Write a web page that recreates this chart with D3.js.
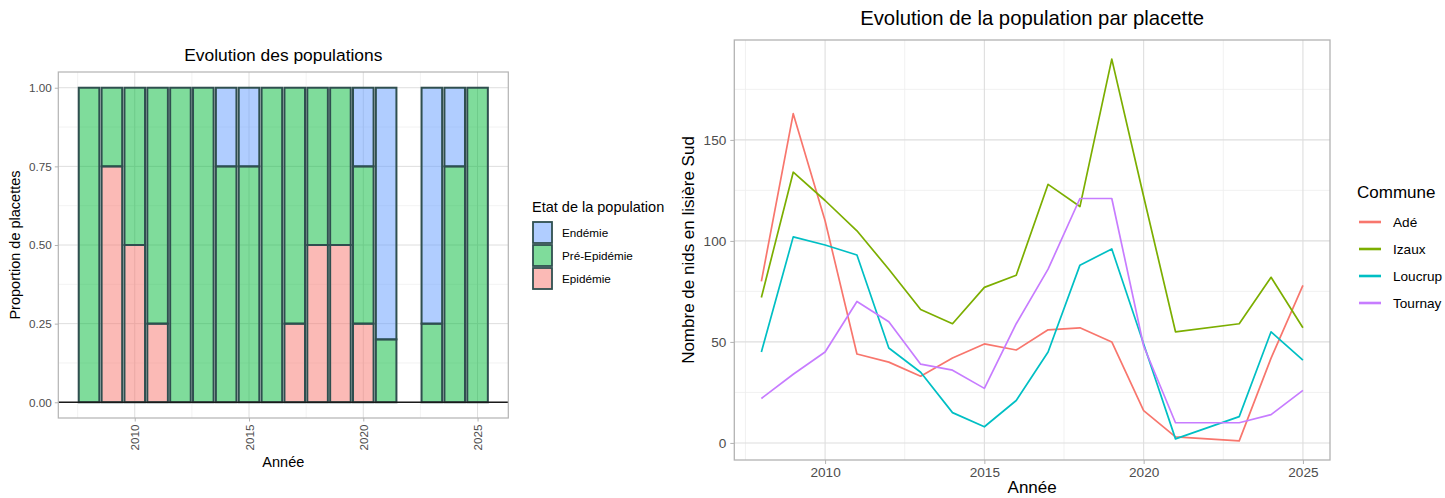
<!DOCTYPE html>
<html><head><meta charset="utf-8">
<script src="https://cdn.jsdelivr.net/npm/d3@7"></script>
<style>
body{margin:0;background:#fff}
svg{display:block;font-family:"Liberation Sans",Arial,Helvetica,sans-serif}
</style>
</head><body>
<svg id="c" width="1445" height="498"></svg>
<script>
// ---------- Data: left chart (proportions) ----------
const barYears    = [2008,2009,2010,2011,2012,2013,2014,2015,2016,2017,2018,2019,2020,2021,2023,2024,2025];
const epidemie    = [0,0.75,0.5,0.25,0,0,0,0,0,0.25,0.5,0.5,0.25,0,0,0,0];
const preEpidemie = [1,0.25,0.5,0.75,1,1,0.75,0.75,1,0.75,0.5,0.5,0.5,0.2,0.25,0.75,1];
const endemie     = [0,0,0,0,0,0,0.25,0.25,0,0,0,0,0.25,0.8,0.75,0.25,0];
const stateNames  = ["Endémie","Pré-Epidémie","Epidémie"];
const stateColors = ["#619CFF","#00BA38","#F8766D"];
const propTicks   = [0,0.25,0.5,0.75,1];
const yearTicks   = [2010,2015,2020,2025];

// ---------- Data: right chart (nests per plot) ----------
const lineYears = [2008,2009,2010,2011,2012,2013,2014,2015,2016,2017,2018,2019,2020,2021,2023,2024,2025];
const ade     = [80,163,110,44,40,33,42,49,46,56,57,50,16,3,1,42,78];
const izaux   = [72,134,120,105,86,66,59,77,83,128,117,190,122,55,59,82,57];
const loucrup = [45,102,98,93,47,35,15,8,21,45,88,96,49,2,13,55,41];
const tournay = [22,34,45,70,60,39,36,27,59,86,121,121,48,10,10,14,26];
const communes = ["Adé","Izaux","Loucrup","Tournay"];
const communeColors = ["#F8766D","#7CAE00","#00BFC4","#C77CFF"];
const countTicks = [0,50,100,150];

const svg = d3.select("#c");
const GRID_MAJ = "#DEDEDE", GRID_MIN = "#EEEEEE", BORDER = "#B3B3B3", TICKTXT = "#4D4D4D";

function expand(lo, hi, f){ const r = hi-lo; return [lo - r*f, hi + r*f]; }

// ================= LEFT CHART =================
(function(){
  const P = {l:58.3, r:508.3, t:72, b:418};
  const xDom = expand(d3.min(barYears)-0.45, d3.max(barYears)+0.45, 0.05);
  const x = d3.scaleLinear().domain(xDom).range([P.l, P.r]);
  const y = d3.scaleLinear().domain([-0.05,1.05]).range([P.b, P.t]);
  const g = svg.append("g");

  const xMinor = [2007.5,2012.5,2017.5,2022.5];
  const yMinor = [0.125,0.375,0.625,0.875];
  g.selectAll(".xm").data(xMinor).join("line").attr("x1",d=>x(d)).attr("x2",d=>x(d)).attr("y1",P.t).attr("y2",P.b).attr("stroke",GRID_MIN).attr("stroke-width",0.7);
  g.selectAll(".ym").data(yMinor).join("line").attr("y1",d=>y(d)).attr("y2",d=>y(d)).attr("x1",P.l).attr("x2",P.r).attr("stroke",GRID_MIN).attr("stroke-width",0.7);
  g.selectAll(".xM").data(yearTicks).join("line").attr("x1",d=>x(d)).attr("x2",d=>x(d)).attr("y1",P.t).attr("y2",P.b).attr("stroke",GRID_MAJ).attr("stroke-width",1);
  g.selectAll(".yM").data(propTicks).join("line").attr("y1",d=>y(d)).attr("y2",d=>y(d)).attr("x1",P.l).attr("x2",P.r).attr("stroke",GRID_MAJ).attr("stroke-width",1);

  const rows = barYears.map((yr,i)=>({year:yr, "Epidémie":epidemie[i], "Pré-Epidémie":preEpidemie[i], "Endémie":endemie[i]}));
  const keys = ["Epidémie","Pré-Epidémie","Endémie"];
  const series = d3.stack().keys(keys)(rows);
  const bw = x(2008.45) - x(2007.55);
  series.forEach(s=>{
    const col = stateColors[stateNames.indexOf(s.key)];
    g.append("g").selectAll("rect").data(s.filter(d=>d[1]-d[0]>0)).join("rect")
      .attr("x",d=>x(d.data.year)-bw/2).attr("width",bw)
      .attr("y",d=>y(d[1])).attr("height",d=>y(d[0])-y(d[1]))
      .attr("fill",col).attr("fill-opacity",0.5)
      .attr("stroke","#2F4F4F").attr("stroke-width",2);
  });

  g.append("line").attr("x1",P.l).attr("x2",P.r).attr("y1",y(0)).attr("y2",y(0)).attr("stroke","#1a1a1a").attr("stroke-width",1.4);

  g.append("rect").attr("x",P.l).attr("y",P.t).attr("width",P.r-P.l).attr("height",P.b-P.t).attr("fill","none").attr("stroke",BORDER).attr("stroke-width",1.2);

  const ya = g.append("g").attr("transform",`translate(${P.l},0)`)
    .call(d3.axisLeft(y).tickValues(propTicks).tickFormat(d3.format(".2f")).tickSize(3.5).tickPadding(3));
  ya.select(".domain").remove();
  ya.selectAll("line").attr("stroke",BORDER);
  ya.selectAll("text").attr("fill",TICKTXT).attr("font-size","11.7px").attr("font-family",null);

  const xa = g.append("g").attr("transform",`translate(0,${P.b})`)
    .call(d3.axisBottom(x).tickValues(yearTicks).tickFormat(d3.format("d")).tickSize(3.5));
  xa.select(".domain").remove();
  xa.selectAll("line").attr("stroke",BORDER);
  xa.selectAll("text").attr("fill",TICKTXT).attr("font-size","11.7px").attr("font-family",null)
    .attr("transform","rotate(-90)").attr("x",-6.5).attr("y",0).attr("dy","0.35em").attr("text-anchor","end");

  g.append("text").attr("x",(P.l+P.r)/2).attr("y",61).attr("text-anchor","middle").attr("font-size","17.4px").attr("fill","#000").text("Evolution des populations");
  g.append("text").attr("x",(P.l+P.r)/2).attr("y",467).attr("text-anchor","middle").attr("font-size","14.5px").attr("fill","#000").text("Année");
  g.append("text").attr("transform",`translate(20,${(P.t+P.b)/2}) rotate(-90)`).attr("text-anchor","middle").attr("font-size","14.5px").attr("fill","#000").text("Proportion de placettes");

  const lg = g.append("g");
  lg.append("text").attr("x",532).attr("y",212).attr("font-size","14.5px").attr("fill","#000").text("Etat de la population");
  stateNames.forEach((nm,i)=>{
    const yy = 222 + i*23;
    lg.append("rect").attr("x",533).attr("y",yy).attr("width",19).attr("height",21)
      .attr("fill",stateColors[i]).attr("fill-opacity",0.5).attr("stroke","#2F4F4F").attr("stroke-width",1.8);
    lg.append("text").attr("x",562).attr("y",yy+10.5).attr("dy","0.35em").attr("font-size","11.7px").attr("fill","#000").text(nm);
  });
})();

// ================= RIGHT CHART =================
(function(){
  const P = {l:734.3, r:1330, t:40, b:460};
  const x = d3.scaleLinear().domain(expand(d3.min(lineYears), d3.max(lineYears), 0.05)).range([P.l, P.r]);
  const all = ade.concat(izaux, loucrup, tournay);
  const y = d3.scaleLinear().domain(expand(d3.min(all), d3.max(all), 0.05)).range([P.b, P.t]);
  const g = svg.append("g");

  const xMinor = [2007.5,2012.5,2017.5,2022.5];
  const yMinor = [25,75,125,175];
  g.selectAll(".xm").data(xMinor).join("line").attr("x1",d=>x(d)).attr("x2",d=>x(d)).attr("y1",P.t).attr("y2",P.b).attr("stroke",GRID_MIN).attr("stroke-width",0.8);
  g.selectAll(".ym").data(yMinor).join("line").attr("y1",d=>y(d)).attr("y2",d=>y(d)).attr("x1",P.l).attr("x2",P.r).attr("stroke",GRID_MIN).attr("stroke-width",0.8);
  g.selectAll(".xM").data(yearTicks).join("line").attr("x1",d=>x(d)).attr("x2",d=>x(d)).attr("y1",P.t).attr("y2",P.b).attr("stroke",GRID_MAJ).attr("stroke-width",1.1);
  g.selectAll(".yM").data(countTicks).join("line").attr("y1",d=>y(d)).attr("y2",d=>y(d)).attr("x1",P.l).attr("x2",P.r).attr("stroke",GRID_MAJ).attr("stroke-width",1.1);

  const seriesVals = [ade, izaux, loucrup, tournay];
  const line = d3.line().x(d=>x(d[0])).y(d=>y(d[1]));
  seriesVals.forEach((vals,i)=>{
    g.append("path").datum(lineYears.map((yr,j)=>[yr, vals[j]]))
      .attr("d",line).attr("fill","none").attr("stroke",communeColors[i]).attr("stroke-width",1.7).attr("stroke-linejoin","round");
  });

  g.append("rect").attr("x",P.l).attr("y",P.t).attr("width",P.r-P.l).attr("height",P.b-P.t).attr("fill","none").attr("stroke",BORDER).attr("stroke-width",1.3);

  const ya = g.append("g").attr("transform",`translate(${P.l},0)`)
    .call(d3.axisLeft(y).tickValues(countTicks).tickFormat(d3.format("d")).tickSize(4).tickPadding(4));
  ya.select(".domain").remove();
  ya.selectAll("line").attr("stroke",BORDER);
  ya.selectAll("text").attr("fill",TICKTXT).attr("font-size","13.6px").attr("font-family",null);

  const xa = g.append("g").attr("transform",`translate(0,${P.b})`)
    .call(d3.axisBottom(x).tickValues(yearTicks).tickFormat(d3.format("d")).tickSize(4).tickPadding(3));
  xa.select(".domain").remove();
  xa.selectAll("line").attr("stroke",BORDER);
  xa.selectAll("text").attr("fill",TICKTXT).attr("font-size","13.6px").attr("font-family",null);

  g.append("text").attr("x",(P.l+P.r)/2).attr("y",25).attr("text-anchor","middle").attr("font-size","20.3px").attr("fill","#000").text("Evolution de la population par placette");
  g.append("text").attr("x",(P.l+P.r)/2).attr("y",493).attr("text-anchor","middle").attr("font-size","17px").attr("fill","#000").text("Année");
  g.append("text").attr("transform",`translate(694,${(P.t+P.b)/2}) rotate(-90)`).attr("text-anchor","middle").attr("font-size","17px").attr("fill","#000").text("Nombre de nids en lisière Sud");

  const lg = g.append("g");
  lg.append("text").attr("x",1357).attr("y",198).attr("font-size","17px").attr("fill","#000").text("Commune");
  communes.forEach((nm,i)=>{
    const yy = 222 + i*27;
    lg.append("line").attr("x1",1359).attr("x2",1381).attr("y1",yy).attr("y2",yy).attr("stroke",communeColors[i]).attr("stroke-width",2.6);
    lg.append("text").attr("x",1393).attr("y",yy).attr("dy","0.35em").attr("font-size","13.6px").attr("fill","#000").text(nm);
  });
})();
</script>
</body></html>
